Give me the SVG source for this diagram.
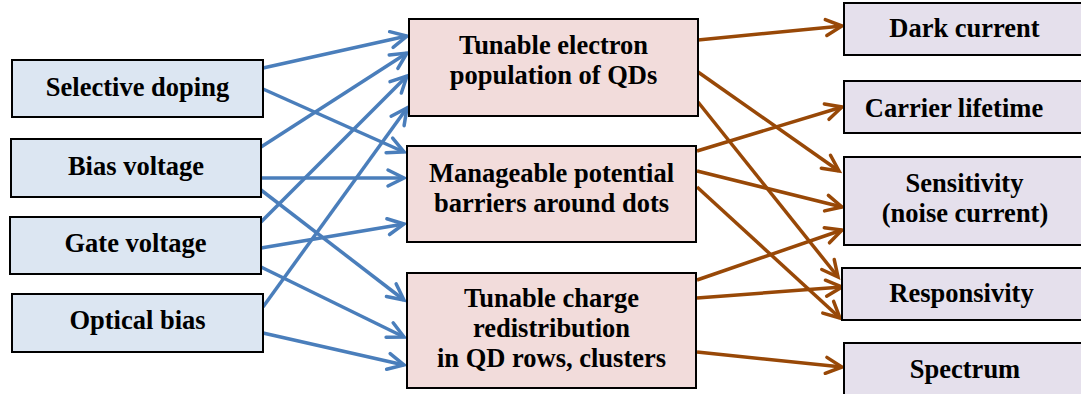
<svg xmlns="http://www.w3.org/2000/svg" width="1081" height="394" viewBox="0 0 1081 394">
<defs>
<style>
.box{stroke:#000;stroke-width:2}
.in{fill:#dce6f2}
.mid{fill:#f2dcdb}
.out{fill:#e5e0ec}
text{font-family:"Liberation Serif","Times New Roman",serif;font-weight:bold;font-size:26.5px;fill:#000;text-anchor:middle}
.b{stroke:#4a7ebb;stroke-width:3.5;fill:none;marker-end:url(#ab)}
.r{stroke:#984807;stroke-width:3.5;fill:none;marker-end:url(#ar)}
</style>
<marker id="ab" markerUnits="userSpaceOnUse" viewBox="-20 -12 24 24" refX="0" refY="0" markerWidth="24" markerHeight="24" orient="auto">
<path d="M-16,-8 L0,0 L-16,8" fill="none" stroke="#4a7ebb" stroke-width="3.5" stroke-linecap="round" stroke-linejoin="miter"/>
</marker>
<marker id="ar" markerUnits="userSpaceOnUse" viewBox="-20 -12 24 24" refX="0" refY="0" markerWidth="24" markerHeight="24" orient="auto">
<path d="M-16,-8 L0,0 L-16,8" fill="none" stroke="#984807" stroke-width="3.5" stroke-linecap="round" stroke-linejoin="miter"/>
</marker>
</defs>
<rect width="1081" height="394" fill="#fff"/>
<g id="connectors">
<path class="b" d="M263,68 L407,36"/>
<path class="b" d="M263,89 L404,152"/>
<path class="b" d="M261,147 L407,53"/>
<path class="b" d="M261,178 L404,178"/>
<path class="b" d="M261,190 L404,300"/>
<path class="b" d="M261,222 L407,76"/>
<path class="b" d="M261,248 L404,224"/>
<path class="b" d="M261,267 L404,337"/>
<path class="b" d="M263,307 L407,108"/>
<path class="b" d="M263,333 L404,365"/>
<path class="r" d="M698,40 L842,26"/>
<path class="r" d="M698,72 L839,171"/>
<path class="r" d="M698,102 L838,277"/>
<path class="r" d="M697,151 L842,107"/>
<path class="r" d="M697,171 L842,207"/>
<path class="r" d="M697,187 L840,318"/>
<path class="r" d="M697,280 L842,230"/>
<path class="r" d="M697,298 L842,287"/>
<path class="r" d="M697,352 L842,367"/>
</g>
<g id="n-selective-doping"><rect class="box in" x="12" y="60" width="251" height="57"/><text x="137.5" y="96">Selective doping</text></g>
<g id="n-bias-voltage"><rect class="box in" x="11" y="139" width="250" height="58"/><text x="136" y="175">Bias voltage</text></g>
<g id="n-gate-voltage"><rect class="box in" x="10" y="217" width="251" height="57"/><text x="135.5" y="252">Gate voltage</text></g>
<g id="n-optical-bias"><rect class="box in" x="12" y="294" width="251" height="58"/><text x="137.5" y="329">Optical bias</text></g>
<g id="n-tunable-electron"><rect class="box mid" x="409" y="19" width="289" height="97"/><text x="553.5" y="54">Tunable electron</text><text x="553.5" y="84">population of QDs</text></g>
<g id="n-potential-barriers"><rect class="box mid" x="407" y="146" width="289" height="96"/><text x="551.5" y="182">Manageable potential</text><text x="551.5" y="212">barriers around dots</text></g>
<g id="n-charge-redistribution"><rect class="box mid" x="407" y="273" width="289" height="115"/><text x="551.5" y="307">Tunable charge</text><text x="551.5" y="337">redistribution</text><text x="551.5" y="367">in QD rows, clusters</text></g>
<g id="n-dark-current"><rect class="box out" x="844" y="3" width="250" height="52"/><text x="964.5" y="37">Dark current</text></g>
<g id="n-carrier-lifetime"><rect class="box out" x="844" y="81" width="250" height="52"/><text x="954" y="117">Carrier lifetime</text></g>
<g id="n-sensitivity"><rect class="box out" x="844" y="157" width="250" height="88"/><text x="964.5" y="192">Sensitivity</text><text x="965" y="222">(noise current)</text></g>
<g id="n-responsivity"><rect class="box out" x="842" y="268" width="250" height="52"/><text x="961.5" y="302">Responsivity</text></g>
<g id="n-spectrum"><rect class="box out" x="844" y="343" width="250" height="60"/><text x="965" y="378">Spectrum</text></g>
</svg>
